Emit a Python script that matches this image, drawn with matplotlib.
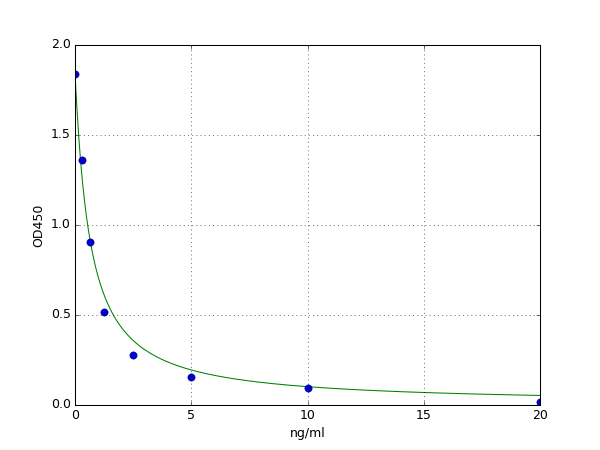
import numpy as np
import matplotlib
matplotlib.use("Agg")
import matplotlib.pyplot as plt

# standard points
conc = [0, 0.3125, 0.625, 1.25, 2.5, 5, 10, 20]
od450 = [1.84, 1.36, 0.905, 0.517, 0.278, 0.157, 0.095, 0.017]

# 4PL fit parameters
fit_top = 1.84
fit_bottom = 0.005
fit_ec50 = 0.639
fit_slope = 1.05

plt.style.use('classic')
fig = plt.figure(figsize=(8, 6), dpi=75, facecolor='white')
ax = fig.add_subplot(111)

xs = np.linspace(0, 20, 500)
ys = fit_bottom + (fit_top - fit_bottom) / (1 + (xs / fit_ec50) ** fit_slope)
ax.plot(xs, ys, color='g', linewidth=1)
ax.plot(conc, od450, 'o', color='#0000d0', markeredgecolor='#000080',
        markeredgewidth=0.5, markersize=7)

ax.set_xlim(0, 20)
ax.set_ylim(0, 2.0)
ax.set_xticks([0, 5, 10, 15, 20])
ax.set_yticks([0, 0.5, 1.0, 1.5, 2.0])
ax.grid(True)
ax.set_xlabel("ng/ml")
ax.set_ylabel("OD450")

fig.savefig("out.png", dpi=75, facecolor='white')
